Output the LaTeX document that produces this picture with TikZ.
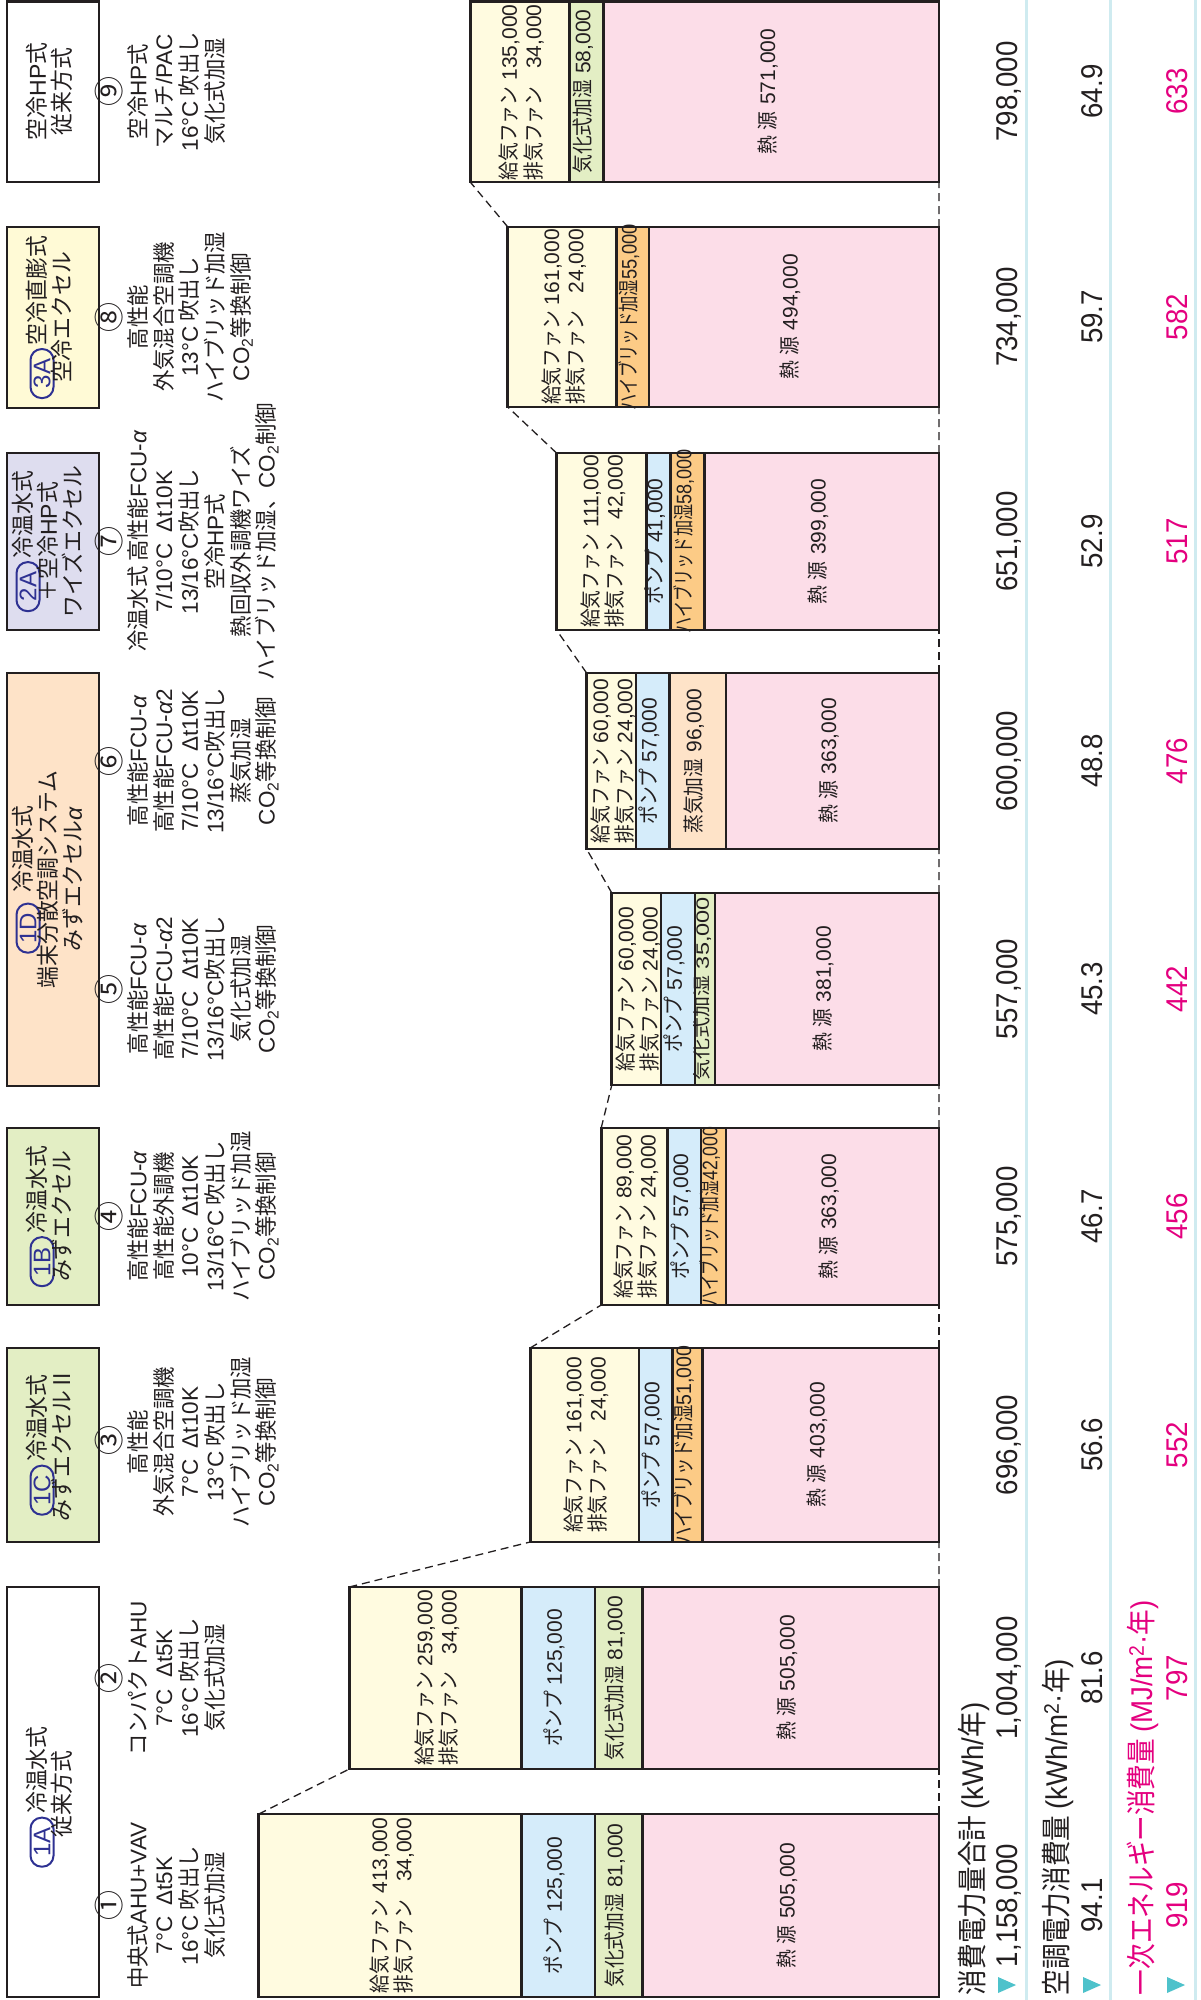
\documentclass[tikz,border=0pt]{standalone}
\usepackage{fontspec}
\usepackage{graphicx}
\setmainfont{Noto Sans CJK JP}[FakeStretch=0.949]
\newfontfamily\cjkc{Noto Sans CJK JP}[FakeStretch=0.894]
\newfontfamily\cjkn{Noto Sans CJK JP}[FakeStretch=0.854]
\newfontfamily\cjkw{Noto Sans CJK JP}
\newfontfamily\lat{Liberation Sans}
\newfontfamily\latc{Liberation Sans}[FakeStretch=0.922]
\definecolor{ink}{HTML}{231F20}
\definecolor{fan}{HTML}{FFFBE0}
\definecolor{pump}{HTML}{D5ECFA}
\definecolor{evap}{HTML}{E3EEC4}
\definecolor{hybr}{HTML}{FCCB86}
\definecolor{steam}{HTML}{FEE3C8}
\definecolor{heat}{HTML}{FCDDE8}
\definecolor{lav}{HTML}{DEDDEF}
\definecolor{cream}{HTML}{FFFAD6}
\definecolor{badgeblue}{HTML}{2E3192}
\definecolor{rowline}{HTML}{CFEBF0}
\definecolor{tri}{HTML}{4EC2CB}
\definecolor{mag}{HTML}{E4007F}
\newcommand{\nm}[1]{{\lat #1}}
\newcommand{\nc}[1]{{\latc #1}}
\newcommand{\co}{{\lat CO\textsubscript{2}}}
\newcommand{\al}{{\lat\itshape α}}
\newcommand{\fans}[2]{\begin{tabular}{@{}l@{\hspace{6pt}}r@{}}給気ファン&\nm{#1}\\排気ファン&\nm{#2}\end{tabular}}
\newcommand{\pumpl}[1]{ポンプ\hspace{6pt}\nm{#1}}
\newcommand{\evapl}[1]{気化式加湿\hspace{6pt}\nm{#1}}
\newcommand{\hybrl}[1]{ハイブリッド加湿\nm{#1}}
\newcommand{\heatl}[1]{熱\hspace{5pt}源\hspace{7pt}\nm{#1}}
\tikzset{
  seg/.style={draw=ink, line width=2.4pt},
  barframe/.style={draw=ink, line width=2.8pt, inner sep=0pt, outer sep=0pt},
  hdrbox/.style={draw=ink, line width=2.8pt},
  link/.style={ink, line width=1.3pt, dash pattern=on 8pt off 5pt},
  rowrule/.style={rowline, line width=3pt},
  txt/.style={rotate=90, inner sep=0pt, outer sep=0pt, text=ink, text height=.88em, text depth=.12em},
  hdr/.style={txt, font=\fontsize{23}{25}\selectfont},
  spec/.style={txt, font=\fontsize{22.5}{25}\selectfont},
  cnum/.style={txt, font=\fontsize{30}{30}\selectfont\cjkw},
  lbl/.style={txt, font=\fontsize{21}{22}\selectfont\cjkc},
  fanlbl/.style={rotate=90, inner sep=0pt, text=ink, font=\fontsize{21}{22}\selectfont\cjkc},
  badge/.style={rotate=90, draw=badgeblue, line width=2pt, rounded corners=11pt, minimum width=49pt, minimum height=23pt, inner sep=0pt, text=badgeblue, font=\fontsize{24}{24}\selectfont\lat},
  rowlbl/.style={txt, anchor=west, font=\fontsize{30}{32}\selectfont\cjkn},
  rowval/.style={txt, font=\fontsize{30}{30}\selectfont\latc},
}
\begin{document}
\begin{tikzpicture}[x=1pt, y=-1pt]
  \useasboundingbox (0,0) rectangle (1200,2000);
  % rules under the result rows
  \draw[rowrule] (1026,0) -- (1026,2000);
  \draw[rowrule] (1110,0) -- (1110,2000);
  \draw[rowrule] (1195,0) -- (1195,2000);

  % header boxes
  \filldraw[hdrbox, fill=white] (7,1587) rectangle (99,1997);
  \filldraw[hdrbox, fill=evap]  (7,1348) rectangle (99,1542);
  \filldraw[hdrbox, fill=evap]  (7,1128) rectangle (99,1305);
  \filldraw[hdrbox, fill=steam] (7,673)  rectangle (99,1086);
  \filldraw[hdrbox, fill=lav]   (7,453)  rectangle (99,630);
  \filldraw[hdrbox, fill=cream] (7,227)  rectangle (99,408);
  \filldraw[hdrbox, fill=white] (7,1.5)  rectangle (99,182);

  \node[hdr] (h1a) at (42,1797) {\hspace*{54pt}冷温水式};
  \node[badge, anchor=west] (b1a) at (h1a.west) {1A};
  \node[hdr] (h1a2) at (67,1794) {従来方式};
  \node[hdr] (h1c) at (42,1445) {\hspace*{54pt}冷温水式};
  \node[badge, anchor=west] (b1c) at (h1c.west) {1C};
  \node[hdr] (h1c2) at (67,1445) {みずエクセルⅡ};
  \node[hdr] (h1b) at (42,1216.5) {\hspace*{54pt}冷温水式};
  \node[badge, anchor=west] (b1b) at (h1b.west) {1B};
  \node[hdr] (h1b2) at (67,1216.5) {みずエクセル};
  \node[hdr] (h1d) at (28,879.5) {\hspace*{61pt}冷温水式};
  \node[badge, anchor=west] (b1d) at (h1d.west) {1D};
  \node[hdr] (h1d2) at (53,879.5) {端末分散空調システム};
  \node[hdr] (h1d3) at (78,879.5) {みずエクセル\al};
  \node[hdr] (h2a) at (28,541.5) {\hspace*{54pt}冷温水式};
  \node[badge, anchor=west] (b2a) at (h2a.west) {2A};
  \node[hdr] (h2a2) at (53,541.5) {＋空冷\nm{HP}式};
  \node[hdr] (h2a3) at (78,541.5) {ワイズエクセル};
  \node[hdr] (h3a) at (42,317.5) {\hspace*{54pt}空冷直膨式};
  \node[badge, anchor=west] (b3a) at (h3a.west) {3A};
  \node[hdr] (h3a2) at (67,317.5) {空冷エクセル};
  \node[hdr] (h9) at (42,91.5) {空冷\nm{HP}式};
  \node[hdr] (h92) at (67,91.5) {従来方式};

  % system specs
  \node[cnum] (c1-0) at (117,1905.5) {①};
  \foreach \t [count=\i from 1] in {中央式\nm{AHU+VAV}, \nm{7°C\enspace Δt5K}, \nm{16°C} 吹出し, 気化式加湿}
    \node[spec] (c1-\i) at (117+25.65*\i,1905.5) {\t};
  \node[cnum] (c2-0) at (117,1678) {②};
  \foreach \t [count=\i from 1] in {コンパクト\nm{AHU}, \nm{7°C\enspace Δt5K}, \nm{16°C} 吹出し, 気化式加湿}
    \node[spec] (c2-\i) at (117+25.65*\i,1678) {\t};
  \node[cnum] (c3-0) at (117,1440) {③};
  \foreach \t [count=\i from 1] in {高性能, 外気混合空調機, \nm{7°C\enspace Δt10K}, \nm{13°C} 吹出し, ハイブリッド加湿, \co 等換制御}
    \node[spec] (c3-\i) at (117+25.65*\i,1442) {\t};
  \node[cnum] (c4-0) at (117,1216.5) {④};
  \foreach \t [count=\i from 1] in {高性能\nm{FCU-}\al, 高性能外調機, \nm{10°C\enspace Δt10K}, \nm{13/16°C} 吹出し, ハイブリッド加湿, \co 等換制御}
    \node[spec] (c4-\i) at (117+25.65*\i,1216.5) {\t};
  \node[cnum] (c5-0) at (117,989) {⑤};
  \foreach \t [count=\i from 1] in {高性能\nm{FCU-}\al, 高性能\nm{FCU-}\al\nm{2}, \nm{7/10°C\enspace Δt10K}, \nm{13/16°C}吹出し, 気化式加湿, \co 等換制御}
    \node[spec] (c5-\i) at (117+25.65*\i,989) {\t};
  \node[cnum] (c6-0) at (117,761) {⑥};
  \foreach \t [count=\i from 1] in {高性能\nm{FCU-}\al, 高性能\nm{FCU-}\al\nm{2}, \nm{7/10°C\enspace Δt10K}, \nm{13/16°C}吹出し, 蒸気加湿, \co 等換制御}
    \node[spec] (c6-\i) at (117+25.65*\i,761) {\t};
  \node[cnum] (c7-0) at (117,541.5) {⑦};
  \foreach \t [count=\i from 1] in {冷温水式 高性能\nm{FCU-}\al, \nm{7/10°C\enspace Δt10K}, \nm{13/16°C}吹出し, 空冷\nm{HP}式, 熱回収外調機ワイズ, ハイブリッド加湿、\co 制御}
    \node[spec] (c7-\i) at (117+25.65*\i,541.5) {\t};
  \node[cnum] (c8-0) at (117,317) {⑧};
  \foreach \t [count=\i from 1] in {高性能, 外気混合空調機, \nm{13°C} 吹出し, ハイブリッド加湿, \co 等換制御}
    \node[spec] (c8-\i) at (117+25.65*\i,317) {\t};
  \node[cnum] (c9-0) at (117,91.5) {⑨};
  \foreach \t [count=\i from 1] in {空冷\nm{HP}式, マルチ\nm{/PAC}, \nm{16°C} 吹出し, 気化式加湿}
    \node[spec] (c9-\i) at (117+25.65*\i,91.5) {\t};

  % column 1
  \filldraw[seg, fill=fan]  (258.8,1814) rectangle (521.4,1997);
  \filldraw[seg, fill=pump] (521.4,1814) rectangle (594.8,1997);
  \filldraw[seg, fill=evap] (594.8,1814) rectangle (642.4,1997);
  \filldraw[seg, fill=heat] (642.4,1814) rectangle (939,1997);
  \node[barframe, minimum width=680.2pt, minimum height=183pt] (bar1) at (598.9,1905.5) {};
  \node[fanlbl] (f1) at (393.6,1905.5) {\fans{413,000}{34,000}};
  \node[lbl] (p1) at (558.1,1905.5) {\pumpl{125,000}};
  \node[lbl] (m1) at (618.6,1905.5) {\evapl{81,000}};
  \node[lbl] (s1) at (790.7,1905.5) {\heatl{505,000}};
  % column 2
  \filldraw[seg, fill=fan]  (349.3,1587) rectangle (521.4,1769);
  \filldraw[seg, fill=pump] (521.4,1587) rectangle (594.8,1769);
  \filldraw[seg, fill=evap] (594.8,1587) rectangle (642.4,1769);
  \filldraw[seg, fill=heat] (642.4,1587) rectangle (939,1769);
  \node[barframe, minimum width=589.7pt, minimum height=182pt] (bar2) at (644.15,1678) {};
  \node[fanlbl] (f2) at (438.9,1678) {\fans{259,000}{34,000}};
  \node[lbl] (p2) at (558.1,1678) {\pumpl{125,000}};
  \node[lbl] (m2) at (618.6,1678) {\evapl{81,000}};
  \node[lbl] (s2) at (790.7,1678) {\heatl{505,000}};
  % column 3
  \filldraw[seg, fill=fan]  (530.1,1348) rectangle (638.8,1542);
  \filldraw[seg, fill=pump] (638.8,1348) rectangle (672.3,1542);
  \filldraw[seg, fill=hybr] (672.3,1348) rectangle (702.3,1542);
  \filldraw[seg, fill=heat] (702.3,1348) rectangle (939,1542);
  \node[barframe, minimum width=408.9pt, minimum height=194pt] (bar3) at (734.55,1445) {};
  \node[fanlbl] (f3) at (588,1445) {\fans{161,000}{24,000}};
  \node[lbl] (p3) at (655.6,1445) {\pumpl{57,000}};
  \node[lbl] (m3) at (687.3,1445) {\scalebox{0.93}[1]{\hybrl{51,000}}};
  \node[lbl] (s3) at (820.7,1445) {\heatl{403,000}};
  % column 4
  \filldraw[seg, fill=fan]  (601.2,1128) rectangle (667.6,1305);
  \filldraw[seg, fill=pump] (667.6,1128) rectangle (701.1,1305);
  \filldraw[seg, fill=hybr] (701.1,1128) rectangle (725.8,1305);
  \filldraw[seg, fill=heat] (725.8,1128) rectangle (939,1305);
  \node[barframe, minimum width=337.8pt, minimum height=177pt] (bar4) at (770.1,1216.5) {};
  \node[fanlbl] (f4) at (637.9,1216.5) {\fans{89,000}{24,000}};
  \node[lbl] (p4) at (684.4,1216.5) {\pumpl{57,000}};
  \node[lbl] (m4) at (713.5,1216.5) {\scalebox{0.84}[1]{\hybrl{42,000}}};
  \node[lbl] (s4) at (832.4,1216.5) {\heatl{363,000}};
  % column 5
  \filldraw[seg, fill=fan]  (611.8,893) rectangle (661.2,1085);
  \filldraw[seg, fill=pump] (661.2,893) rectangle (694.7,1085);
  \filldraw[seg, fill=evap] (694.7,893) rectangle (715.2,1085);
  \filldraw[seg, fill=heat] (715.2,893) rectangle (939,1085);
  \node[barframe, minimum width=327.2pt, minimum height=192pt] (bar5) at (775.4,989) {};
  \node[fanlbl] (f5) at (640,989) {\fans{60,000}{24,000}};
  \node[lbl] (p5) at (678,989) {\pumpl{57,000}};
  \node[lbl] (m5) at (705,989) {\scalebox{1.12}[0.85]{\evapl{35,000}}};
  \node[lbl] (s5) at (827.1,989) {\heatl{381,000}};
  % column 6
  \filldraw[seg, fill=fan]   (586.6,673) rectangle (635.9,849);
  \filldraw[seg, fill=pump]  (635.9,673) rectangle (669.4,849);
  \filldraw[seg, fill=steam] (669.4,673) rectangle (725.8,849);
  \filldraw[seg, fill=heat]  (725.8,673) rectangle (939,849);
  \node[barframe, minimum width=352.4pt, minimum height=176pt] (bar6) at (762.8,761) {};
  \node[fanlbl] (f6) at (614.8,761) {\fans{60,000}{24,000}};
  \node[lbl] (p6) at (652.7,761) {\pumpl{57,000}};
  \node[lbl] (m6) at (697.6,761) {蒸気加湿\hspace{6pt}\nm{96,000}};
  \node[lbl] (s6) at (832.4,761) {\heatl{363,000}};
  % column 7
  \filldraw[seg, fill=fan]  (556.5,453) rectangle (646.4,630);
  \filldraw[seg, fill=pump] (646.4,453) rectangle (670.5,630);
  \filldraw[seg, fill=hybr] (670.5,453) rectangle (704.6,630);
  \filldraw[seg, fill=heat] (704.6,453) rectangle (939,630);
  \node[barframe, minimum width=382.5pt, minimum height=177pt] (bar7) at (747.75,541.5) {};
  \node[fanlbl] (f7) at (605,541.5) {\fans{111,000}{42,000}};
  \node[lbl] (p7) at (658.5,541.5) {\pumpl{41,000}};
  \node[lbl] (m7) at (687.6,541.5) {\scalebox{0.86}[1]{\hybrl{58,000}}};
  \node[lbl] (s7) at (821.8,541.5) {\heatl{399,000}};
  % column 8
  \filldraw[seg, fill=fan]  (507.8,227) rectangle (616.5,407);
  \filldraw[seg, fill=hybr] (616.5,227) rectangle (648.8,407);
  \filldraw[seg, fill=heat] (648.8,227) rectangle (939,407);
  \node[barframe, minimum width=431.2pt, minimum height=180pt] (bar8) at (723.4,317) {};
  \node[fanlbl] (f8) at (565.7,317) {\fans{161,000}{24,000}};
  \node[lbl] (m8) at (632.7,317) {\scalebox{0.87}[1]{\hybrl{55,000}}};
  \node[lbl] (s8) at (793.9,317) {\heatl{494,000}};
  % column 9
  \filldraw[seg, fill=fan]  (470.2,1.5) rectangle (569.5,182);
  \filldraw[seg, fill=evap] (569.5,1.5) rectangle (603.6,182);
  \filldraw[seg, fill=heat] (603.6,1.5) rectangle (939,182);
  \node[barframe, minimum width=468.8pt, minimum height=180.5pt] (bar9) at (704.6,91.75) {};
  \node[fanlbl] (f9) at (523.4,92.5) {\fans{135,000}{34,000}};
  \node[lbl] (m9) at (586.6,91.5) {\evapl{58,000}};
  \node[lbl] (s9) at (771.3,91.5) {\heatl{571,000}};

  % dashed links between neighbouring bars
  \draw[link] (bar1.north west) -- (bar2.south west);
  \draw[link] (bar2.north west) -- (bar3.south west);
  \draw[link] (bar3.north west) -- (bar4.south west);
  \draw[link] (bar4.north west) -- (bar5.south west);
  \draw[link] (bar5.north west) -- (bar6.south west);
  \draw[link] (bar6.north west) -- (bar7.south west);
  \draw[link] (bar7.north west) -- (bar8.south west);
  \draw[link] (bar8.north west) -- (bar9.south west);
  \draw[link] (bar1.north east) -- (bar2.south east);
  \draw[link] (bar2.north east) -- (bar3.south east);
  \draw[link] (bar3.north east) -- (bar4.south east);
  \draw[link] (bar4.north east) -- (bar5.south east);
  \draw[link] (bar5.north east) -- (bar6.south east);
  \draw[link] (bar6.north east) -- (bar7.south east);
  \draw[link] (bar7.north east) -- (bar8.south east);
  \draw[link] (bar8.north east) -- (bar9.south east);

  % result rows
  \node[rowlbl] (r1) at (980,1995) {消費電力量合計\hspace{6pt}\nc{(kWh/}年\nc{)}};
  \node[rowlbl] (r2) at (1064,1995) {空調電力消費量\hspace{6pt}\nc{(kWh/m\textsuperscript{2}·}年\nc{)}};
  \node[rowlbl, text=mag] (r3) at (1149,1995) {一次エネルギー消費量\hspace{6pt}\nc{(MJ/m\textsuperscript{2}·}年\nc{)}};
  \fill[tri] (998,1977) -- (998,1993) -- (1016,1985) -- cycle;
  \fill[tri] (1083,1977) -- (1083,1993) -- (1101,1985) -- cycle;
  \fill[tri] (1167,1977) -- (1167,1993) -- (1185,1985) -- cycle;

  \node[rowval] (v1a) at (1014,1905.5) {1,158,000};
  \node[rowval] (v1b) at (1099,1905.5) {94.1};
  \node[rowval, text=mag] (v1c) at (1184,1905.5) {919};
  \node[rowval] (v2a) at (1014,1678) {1,004,000};
  \node[rowval] (v2b) at (1099,1678) {81.6};
  \node[rowval, text=mag] (v2c) at (1184,1678) {797};
  \node[rowval] (v3a) at (1014,1445) {696,000};
  \node[rowval] (v3b) at (1099,1445) {56.6};
  \node[rowval, text=mag] (v3c) at (1184,1445) {552};
  \node[rowval] (v4a) at (1014,1216.5) {575,000};
  \node[rowval] (v4b) at (1099,1216.5) {46.7};
  \node[rowval, text=mag] (v4c) at (1184,1216.5) {456};
  \node[rowval] (v5a) at (1014,989) {557,000};
  \node[rowval] (v5b) at (1099,989) {45.3};
  \node[rowval, text=mag] (v5c) at (1184,989) {442};
  \node[rowval] (v6a) at (1014,761) {600,000};
  \node[rowval] (v6b) at (1099,761) {48.8};
  \node[rowval, text=mag] (v6c) at (1184,761) {476};
  \node[rowval] (v7a) at (1014,541.5) {651,000};
  \node[rowval] (v7b) at (1099,541.5) {52.9};
  \node[rowval, text=mag] (v7c) at (1184,541.5) {517};
  \node[rowval] (v8a) at (1014,317) {734,000};
  \node[rowval] (v8b) at (1099,317) {59.7};
  \node[rowval, text=mag] (v8c) at (1184,317) {582};
  \node[rowval] (v9a) at (1014,91.5) {798,000};
  \node[rowval] (v9b) at (1099,91.5) {64.9};
  \node[rowval, text=mag] (v9c) at (1184,91.5) {633};
\end{tikzpicture}
\end{document}
